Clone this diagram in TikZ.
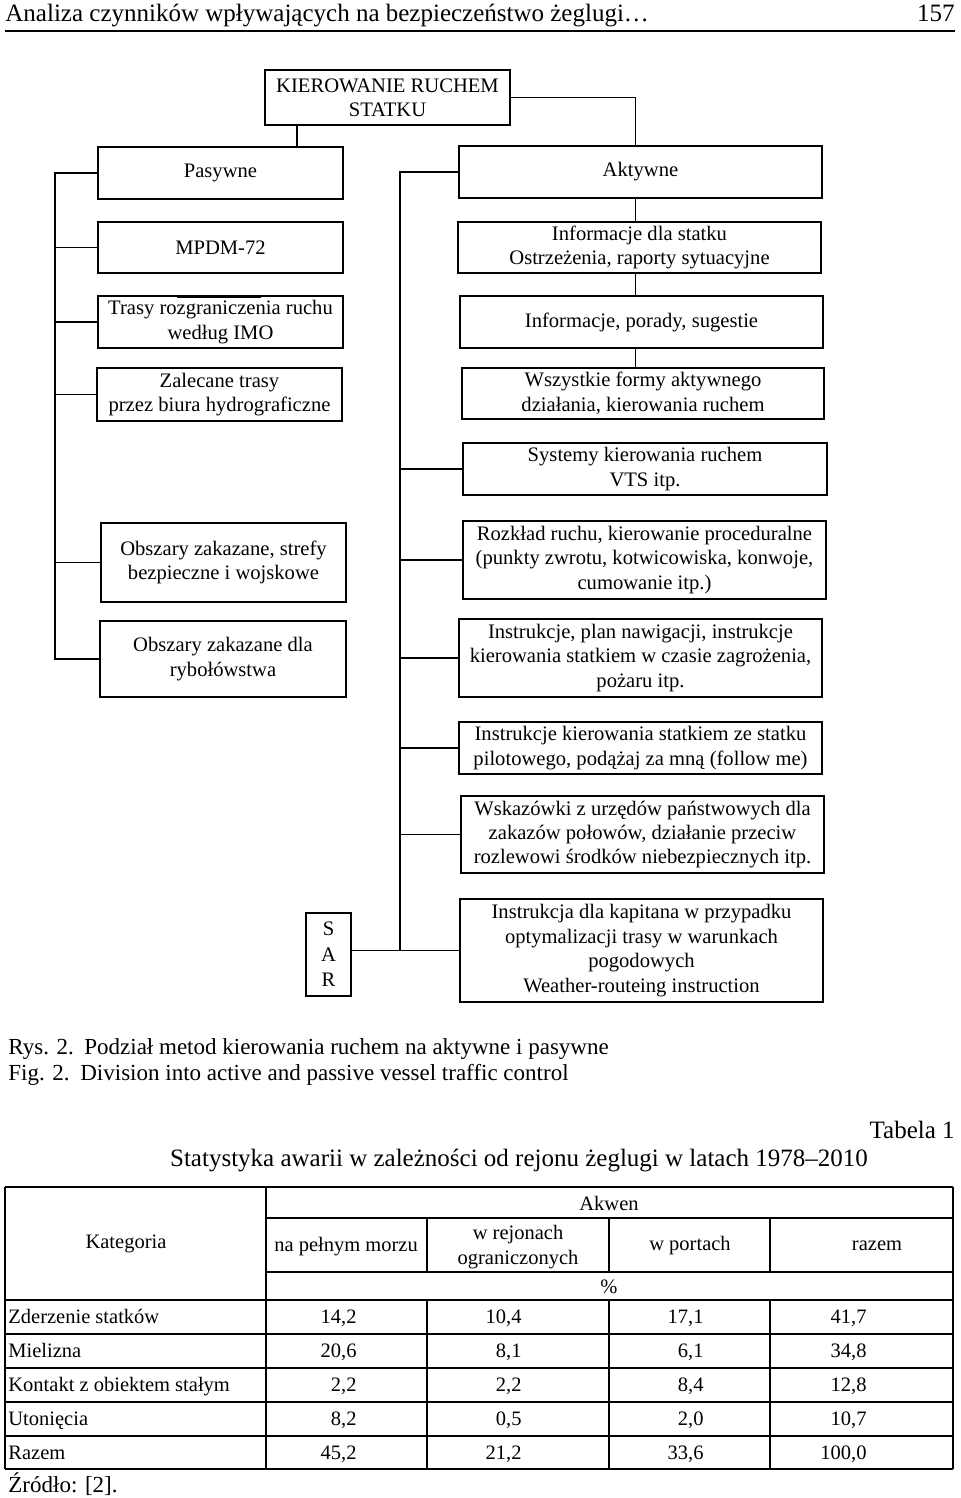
\documentclass[tikz,border=0pt]{standalone}
\usepackage{fontspec}
\setmainfont{Liberation Serif}
\usetikzlibrary{calc}
\newcommand\dgmfont{\fontsize{10.3}{12.2}\selectfont}
\newcommand\tabfont{\fontsize{10.25}{12.4}\selectfont}
\newcommand\hdrfont{\fontsize{12.5}{15}\selectfont}
\newcommand\capfont{\fontsize{11.5}{14}\selectfont}
\begin{document}
\begin{tikzpicture}[x=0.5pt,y=-0.5pt,
  box/.style={draw, line width=0.8pt, align=center, inner sep=0pt, font=\dgmfont},
  conn/.style={line width=0.8pt},
  tthin/.style={line width=0.55pt},
  tthick/.style={line width=1.2pt},
  txt/.style={inner sep=0pt, font=\tabfont, align=center}]
\useasboundingbox (0,0) rectangle (960,1498);
% header
\node[anchor=base west, inner sep=0pt, font=\hdrfont] (hdr) at (5,22) {Analiza czynników wpływających na bezpieczeństwo żeglugi…};
\node[anchor=base east, inner sep=0pt, font=\hdrfont] (pg) at (955,22) {157};
\coordinate (hl) at (5,31);
\coordinate (hr) at (955,31);
\draw[line width=1pt] (hl) -- (hr);
% diagram boxes
\node[box, minimum width=122.5pt, minimum height=27.5pt] (kier) at (387.5,97.5) {KIEROWANIE RUCHEM\\STATKU};
\node[box, minimum width=122.5pt, minimum height=26pt] (pas) at (220.5,173) {Pasywne};
\node[box, minimum width=122.5pt, minimum height=25.5pt] (mpdm) at (220.5,247.5) {MPDM-72};
\node[box, minimum width=122.5pt, minimum height=26pt] (trasy) at (220.5,322) {Trasy rozgraniczenia ruchu\\według IMO};
\node[box, minimum width=122.5pt, minimum height=26.5pt] (zal) at (219.5,394.5) {Zalecane trasy\\przez biura hydrograficzne};
\node[box, minimum width=122.5pt, minimum height=39.5pt] (obs1) at (223.5,562.5) {Obszary zakazane, strefy\\bezpieczne i wojskowe};
\node[box, minimum width=123pt, minimum height=38pt] (obs2) at (223,659) {Obszary zakazane dla\\rybołówstwa};
\node[box, minimum width=181.5pt, minimum height=26pt] (akt) at (640.5,172) {Aktywne};
\node[box, minimum width=181.5pt, minimum height=25.5pt] (inf) at (639.5,247.5) {Informacje dla statku\\Ostrzeżenia, raporty sytuacyjne};
\node[box, minimum width=181.5pt, minimum height=26pt] (por) at (641.5,322) {Informacje, porady, sugestie};
\node[box, minimum width=181pt, minimum height=25.5pt] (wsz) at (643,393.5) {Wszystkie formy aktywnego\\działania, kierowania ruchem};
\node[box, minimum width=182pt, minimum height=26pt] (sys) at (645,469) {Systemy kierowania ruchem\\VTS itp.};
\node[box, minimum width=181.5pt, minimum height=39pt] (roz) at (644.5,560) {Rozkład ruchu, kierowanie proceduralne\\(punkty zwrotu, kotwicowiska, konwoje,\\cumowanie itp.)};
\node[box, minimum width=181.5pt, minimum height=39pt] (instr) at (640.5,658) {Instrukcje, plan nawigacji, instrukcje\\kierowania statkiem w czasie zagrożenia,\\pożaru itp.};
\node[box, minimum width=181.5pt, minimum height=26pt] (ik) at (640.5,748) {Instrukcje kierowania statkiem ze statku\\pilotowego, podążaj za mną (follow me)};
\node[box, minimum width=181.5pt, minimum height=38.5pt] (wsk) at (642.5,834.5) {Wskazówki z urzędów państwowych dla\\zakazów połowów, działanie przeciw\\rozlewowi środków niebezpiecznych itp.};
\node[box, minimum width=181.5pt, minimum height=51.5pt] (kap) at (641.5,950.5) {Instrukcja dla kapitana w przypadku\\optymalizacji trasy w warunkach\\pogodowych\\Weather-routeing instruction};
\node[box, minimum width=22.5pt, minimum height=41.5pt] (sar) at (328.5,954.5) {S\\[0.6pt]A\\[0.6pt]R};
% stray mark in the Trasy box
\draw[line width=0.8pt] ($(trasy.north west)+(80,2)$) -- ($(trasy.north west)+(164,2)$);
% connectors
\coordinate (kbus) at (297,0);
\coordinate (abus) at (635.5,0);
\coordinate (lbus) at (55,0);
\coordinate (mbus) at (400,0);
\draw[conn] (kbus |- kier.south) -- (kbus |- pas.north);
\draw[conn] (kier.east) -| (abus |- akt.north);
\draw[conn] (abus |- akt.south) -- (abus |- inf.north);
\draw[conn] (abus |- inf.south) -- (abus |- por.north);
\draw[conn] (abus |- por.south) -- (abus |- wsz.north);
\draw[conn] (pas.west) -- (pas.west -| lbus) -- (obs2.west -| lbus) -- (obs2.west);
\foreach \n in {mpdm,trasy,zal,obs1} \draw[conn] (\n.west) -- (\n.west -| lbus);
\draw[conn] (akt.west) -- (akt.west -| mbus) -- (kap.west -| mbus);
\foreach \n in {sys,roz,instr,ik,wsk,kap} \draw[conn] (\n.west) -- (\n.west -| mbus);
\draw[conn] (sar.east |- kap.west) -- (kap.west -| mbus);
% caption
\node[anchor=base west, inner sep=0pt, font=\capfont] (rys) at (8,1054) {\makebox[38pt][l]{Rys. 2.}Podział metod kierowania ruchem na aktywne i pasywne};
\node[anchor=base west, inner sep=0pt, font=\capfont] (fig) at (8,1080) {\makebox[36pt][l]{Fig. 2.}Division into active and passive vessel traffic control};
% table titles
\node[anchor=east, inner sep=0pt, font=\hdrfont] (tab) at (955,1130) {Tabela 1};
\node[inner sep=0pt, font=\hdrfont] (ttl) at (519,1160) {Statystyka awarii w zależności od rejonu żeglugi w latach 1978–2010};
% table grid
\draw[tthick] (5,1187) -- (953,1187);
\draw[tthick] (5,1300) -- (953,1300);
\draw[tthick] (5,1469) -- (953,1469);
\draw[tthick] (5,1187) -- (5,1469);
\draw[tthick] (953,1187) -- (953,1469);
\draw[tthin] (266,1187) -- (266,1469);
\draw[tthin] (266,1218) -- (953,1218);
\draw[tthin] (266,1272) -- (953,1272);
\foreach \yy in {1334,1368,1402,1436} \draw[tthin] (5,\yy) -- (953,\yy);
\foreach \xx in {427,609,770} {
  \draw[tthin] (\xx,1218) -- (\xx,1272);
  \draw[tthin] (\xx,1300) -- (\xx,1469);
}
% table header texts
\node[txt] (kat) at (126,1244) {Kategoria};
\node[txt] (akw) at (609,1203) {Akwen};
\node[txt] (c1) at (346,1247) {na pełnym morzu};
\node[txt] (c2) at (518,1247) {w rejonach\\ograniczonych};
\node[txt] (c3) at (690,1246) {w portach};
\node[txt] (c4) at (877,1246) {razem};
\node[txt] (pct) at (609,1287) {\%};
% table rows
\foreach \yy/\lab/\a/\b/\c/\d in {1316/Zderzenie statków/{14,2}/{10,4}/{17,1}/{41,7},
  1350/Mielizna/{20,6}/{8,1}/{6,1}/{34,8},
  1384/Kontakt z obiektem stałym/{2,2}/{2,2}/{8,4}/{12,8},
  1418/Utonięcia/{8,2}/{0,5}/{2,0}/{10,7},
  1452/Razem/{45,2}/{21,2}/{33,6}/{100,0}} {
  \node[txt, anchor=base west] at (8,\yy+7) {\lab};
  \node[txt, anchor=base east] at (357,\yy+7) {\a};
  \node[txt, anchor=base east] at (522,\yy+7) {\b};
  \node[txt, anchor=base east] at (704,\yy+7) {\c};
  \node[txt, anchor=base east] at (867,\yy+7) {\d};
}
\node[anchor=west, inner sep=0pt, font=\capfont] (src) at (8,1484) {Źródło: [2].};
\end{tikzpicture}
\end{document}
